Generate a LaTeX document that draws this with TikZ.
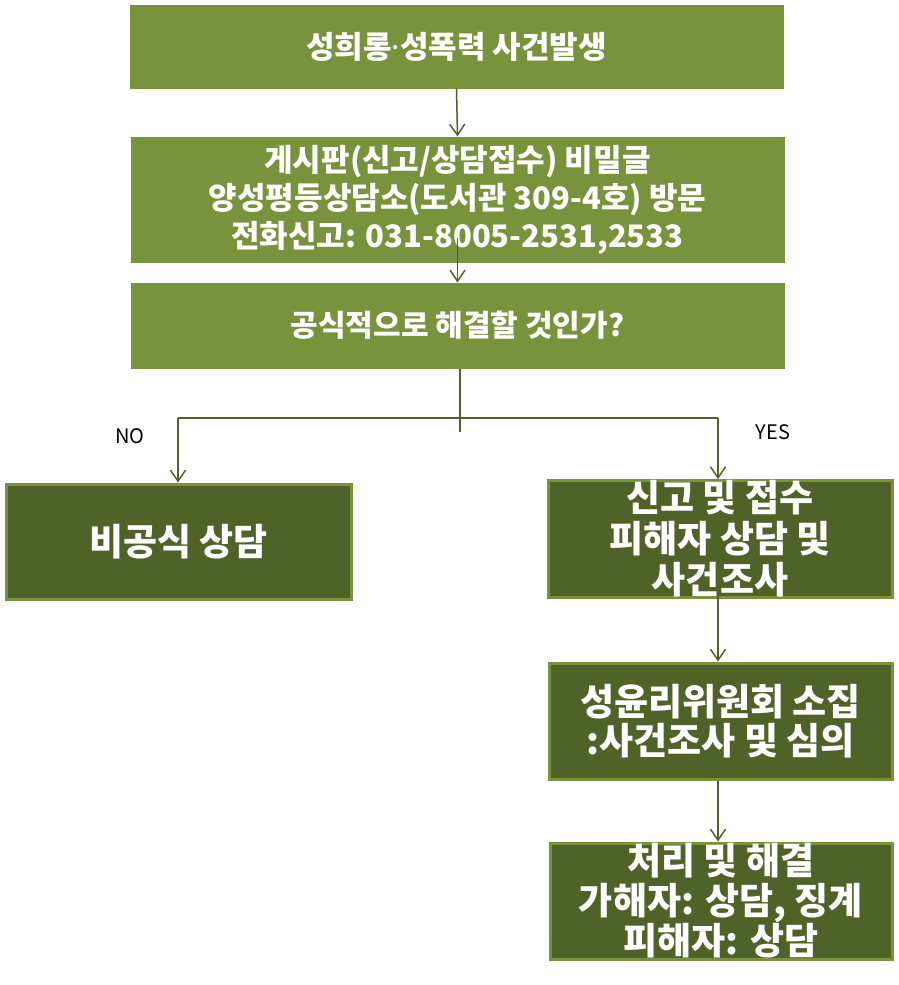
\documentclass[tikz,border=0pt]{standalone}
\usepackage{fontspec}
\setmainfont{Noto Sans CJK KR}
\newfontfamily\latinsans{Noto Sans}
\usetikzlibrary{arrows.meta}
\definecolor{lgreen}{HTML}{77933C}
\definecolor{dgreen}{HTML}{4F6228}
\tikzset{
  litebox/.style={fill=lgreen, draw=lgreen, line width=1pt, text=white, align=center,
    inner sep=0pt, font=\bfseries\fontsize{31}{38}\selectfont},
  darkbox/.style={fill=dgreen, draw=lgreen, line width=3pt, text=white, align=center,
    inner sep=0pt, font=\bfseries\fontsize{37}{41}\selectfont},
  conn/.style={draw=dgreen, line width=1.5pt},
  arr/.style={conn, -{Straight Barb[length=11pt,width=15pt,line width=1.5pt]}},
  lbl/.style={font=\fontsize{20}{24}\selectfont, text=black, inner sep=0pt}
}
\begin{document}
\begin{tikzpicture}[x=1pt,y=-1pt]
\useasboundingbox (0,0) rectangle (898,985);
\fill[white] (0,0) rectangle (898,985);

\node[litebox, minimum width=653pt, minimum height=83pt] (a) at (456.5,46.5) {성희롱{\latinsans\bfseries ·}성폭력 사건발생};
\node[litebox, minimum width=653pt, minimum height=125pt] (b) at (457.5,199.5)
  {게시판(신고/상담접수) 비밀글\\양성평등상담소(도서관 309-4호) 방문\\전화신고: 031-8005-2531,2533};
\node[litebox, minimum width=653pt, minimum height=85pt, font=\bfseries\fontsize{30}{36}\selectfont] (c) at (457.5,325.5) {공식적으로 해결할 것인가?};

\node[darkbox, minimum width=345pt, minimum height=115pt] (d) at (178.5,541.5) {비공식 상담};
\node[darkbox, minimum width=344pt, minimum height=114pt] (e) at (720,539)
  {신고 및 접수\\피해자 상담 및\\사건조사};
\node[darkbox, minimum width=343pt, minimum height=116pt, font=\bfseries\fontsize{37}{39}\selectfont] (f) at (720.5,721)
  {성윤리위원회 소집\\:사건조사 및 심의};
\node[darkbox, minimum width=342pt, minimum height=116pt, font=\bfseries\fontsize{37}{40}\selectfont] (g) at (721,901)
  {처리 및 해결\\가해자: 상담, 징계\\피해자: 상담};

\coordinate (cend) at (460,432);
\coordinate (lt) at (178,418);
\coordinate (rt) at (718,418);

\draw[arr] (a.south) -- (b.north);
\draw[arr] ([yshift=25pt]b.south) -- (c.north);
\draw[conn] ([xshift=2.5pt]c.south) -- (cend);
\draw[conn] (lt) -- (rt);
\draw[arr] (lt) -- (lt |- d.north);
\draw[arr] (rt) -- (rt |- e.north);
\draw[arr] ([xshift=-2pt,yshift=6pt]e.south) -- ([xshift=-2.5pt]f.north);
\draw[arr] ([xshift=-2.5pt]f.south) -- ([xshift=-3pt]g.north);

\node[lbl] (no) at (130,436) {NO};
\node[lbl] (yes) at (773,432) {YES};
\end{tikzpicture}
\end{document}
